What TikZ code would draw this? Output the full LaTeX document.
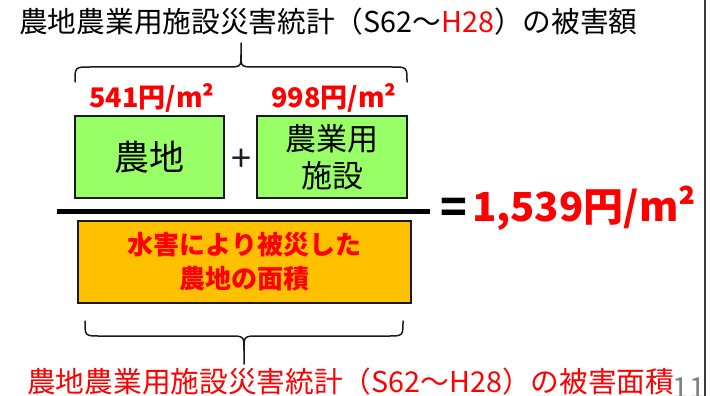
\documentclass[tikz,border=0pt]{standalone}
\usepackage{fontspec}
\setmainfont{Noto Sans CJK JP}
\definecolor{boxgreen}{HTML}{99FF66}
\definecolor{boxorange}{HTML}{FFC000}
\definecolor{txtred}{HTML}{FF0000}
\definecolor{edge}{HTML}{1A1A1A}
\definecolor{rulegray}{HTML}{3A3A3A}
\definecolor{pagegray}{HTML}{808080}
\begin{document}
\begin{tikzpicture}[x=1pt,y=-1pt,
  greenbox/.style={draw=edge, line width=2pt, fill=boxgreen, inner sep=0pt, align=center},
  orangebox/.style={draw=edge, line width=2pt, fill=boxorange, inner sep=0pt, align=center},
  redlabel/.style={inner sep=0pt, text=txtred, font=\fontsize{27}{30}\selectfont\bfseries},
  bigred/.style={inner sep=0pt, text=txtred, font=\fontsize{40}{44}\selectfont\bfseries},
  heading/.style={inner sep=0pt, font=\fontsize{28.7}{33}\selectfont},
  bracepath/.style={draw=edge, line width=1.5pt, line cap=round, line join=round}]
\useasboundingbox (0,0) rectangle (723,396);
\fill[white] (0,0) rectangle (723,396);

% title
\node[heading, anchor=west, text=black] (title) at (19,22)
  {農地農業用施設災害統計（S62～\textcolor{txtred}{H28}）の被害額};

% top brace
\path[bracepath] (75,82) .. controls (75,67) .. (90,67) -- (226,67)
  .. controls (241,67) .. (241,55) -- (241,43);
\path[bracepath] (241,55) .. controls (241,67) .. (256,67) -- (392,67)
  .. controls (407,67) .. (407,82);

% value labels
\node[redlabel] (lab1) at (152,98) {541円/m²};
\node[redlabel] (lab2) at (334,98) {998円/m²};

% green boxes
\node[greenbox, minimum width=149pt, minimum height=82pt,
  font=\fontsize{35}{38}\selectfont] (farm) at (149.5,157) {農地};
\node[greenbox, minimum width=150pt, minimum height=82pt,
  font=\fontsize{31}{37}\selectfont] (facility) at (332,157) {農業用\\施設};
\node[inner sep=0pt, text=edge, font=\fontsize{36}{38}\selectfont] (plus) at (241,160) {+};

% fraction bar
\node[fill=black, inner sep=0pt, minimum width=373pt, minimum height=5pt] (bar) at (243.5,211.5) {};

% equals and result
\node[inner sep=0pt, text=black, font=\fontsize{44}{48}\selectfont\bfseries] (eq) at (454,211) {=};
\node[bigred, anchor=west] (result) at (472,208) {1,539円/m²};

% orange box
\node[orangebox, minimum width=333pt, minimum height=82pt, text=txtred,
  font=\fontsize{26}{34}\selectfont\bfseries] (area) at (244.5,262) {水害により被災した\\農地の面積};

% bottom brace
\path[bracepath] (85,321) .. controls (85,336) .. (100,336) -- (229,336)
  .. controls (244,336) .. (244,350) -- (244,364);
\path[bracepath] (244,350) .. controls (244,336) .. (259,336) -- (388,336)
  .. controls (403,336) .. (403,321);

% bottom caption
\node[heading, anchor=west, text=txtred] (caption) at (27,382)
  {農地農業用施設災害統計（S62～H28）の被害面積};

% page number and rule
\node[inner sep=0pt, text=pagegray, font=\fontsize{29}{31}\selectfont] (page) at (689,388) {11};
\draw[rulegray, line width=2pt] (705,0) -- (705,396);
\end{tikzpicture}
\end{document}
